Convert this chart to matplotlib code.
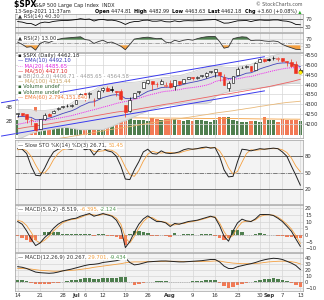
import matplotlib
matplotlib.use("Agg")
import matplotlib.pyplot as plt
from matplotlib.patches import Rectangle

W, H = 324, 300

# ---- data ----
tick_pos = [0, 5, 10, 13, 15, 19, 24, 29, 34, 39, 44, 49, 54, 56, 59, 63]
tick_lab = ["14", "21", "28", "Jul", "6", "12", "19", "26", "Aug", "9", "16", "23", "30", "Sep", "7", "13"]

opens = [4248.3, 4255.3, 4248.9, 4220.4, 4204.8, 4173.4, 4224.6, 4249.3, 4256.9, 4274.5,
         4284.9, 4293.2, 4290.7, 4300.7, 4326.6, 4356.5, 4351.0, 4321.1, 4329.4,
         4372.4, 4381.1, 4380.1, 4369.0, 4367.4, 4296.4, 4265.1, 4331.1, 4361.3, 4381.2,
         4409.6, 4416.4, 4402.9, 4403.6, 4395.1, 4406.9, 4392.7, 4415.9, 4408.9, 4429.1,
         4437.8, 4435.8, 4442.2, 4446.1, 4464.8, 4461.7, 4462.1, 4440.9, 4382.4, 4410.6,
         4450.3, 4484.4, 4490.5, 4493.8, 4474.1, 4513.8, 4529.8, 4528.8, 4534.5, 4532.4,
         4535.4, 4518.1, 4513.0, 4506.9, 4474.8]
highs = [4255.6, 4257.2, 4251.9, 4232.3, 4204.8, 4226.2, 4255.8, 4256.6, 4271.3, 4286.1,
         4292.1, 4300.5, 4302.4, 4320.7, 4355.4, 4356.5, 4361.9, 4330.9, 4372.0,
         4386.7, 4392.4, 4393.7, 4369.0, 4375.1, 4296.4, 4336.8, 4359.7, 4369.9, 4415.2,
         4422.7, 4416.4, 4415.5, 4430.0, 4412.3, 4422.2, 4423.8, 4416.2, 4429.8, 4440.8,
         4439.4, 4445.2, 4449.4, 4461.8, 4468.4, 4480.3, 4462.1, 4454.3, 4418.6, 4444.4,
         4489.9, 4492.8, 4501.7, 4495.9, 4513.3, 4537.4, 4531.4, 4537.1, 4545.9, 4541.5,
         4535.4, 4521.8, 4529.9, 4520.5, 4483.0]
lows = [4234.1, 4238.4, 4202.5, 4196.1, 4164.4, 4173.4, 4217.3, 4241.4, 4256.9, 4271.2,
        4281.1, 4287.0, 4287.8, 4300.7, 4326.6, 4314.4, 4329.8, 4289.4, 4329.4,
        4364.0, 4366.9, 4362.4, 4340.7, 4322.5, 4233.1, 4262.1, 4331.1, 4350.1, 4381.2,
        4405.5, 4372.5, 4387.0, 4403.6, 4389.9, 4384.8, 4373.0, 4400.2, 4408.9, 4429.1,
        4424.7, 4430.0, 4436.4, 4435.5, 4460.8, 4437.7, 4417.8, 4397.6, 4367.7, 4406.8,
        4450.3, 4482.3, 4485.7, 4469.0, 4474.1, 4513.8, 4515.8, 4522.0, 4524.7, 4521.9,
        4513.0, 4494.0, 4492.1, 4457.7, 4461.0]
closes = [4255.2, 4246.6, 4223.7, 4221.9, 4166.5, 4224.8, 4246.4, 4241.8, 4266.5, 4280.7,
          4290.6, 4291.8, 4297.5, 4319.9, 4352.3, 4343.5, 4358.1, 4320.8, 4369.6,
          4384.6, 4369.2, 4374.3, 4360.0, 4327.2, 4258.5, 4323.1, 4358.7, 4367.5, 4411.8,
          4422.3, 4401.5, 4400.6, 4419.2, 4395.3, 4387.2, 4423.2, 4402.7, 4429.1, 4436.5,
          4432.4, 4436.8, 4447.7, 4460.8, 4468.0, 4479.7, 4448.1, 4400.3, 4405.8, 4441.7,
          4479.5, 4486.2, 4496.2, 4470.0, 4509.4, 4528.8, 4522.7, 4524.1, 4537.0, 4535.4,
          4520.0, 4514.1, 4493.3, 4458.6, 4462.2]
volume_b = [2.2, 2.3, 2.6, 2.8, 4.0, 2.5, 2.2, 2.1, 2.2, 2.8,
            2.3, 2.1, 2.4, 2.0, 1.9, 2.5, 2.3, 2.6, 1.9,
            1.9, 2.2, 2.2, 2.2, 2.3, 2.7, 2.4, 2.2, 2.1, 2.1,
            2.0, 2.4, 2.3, 2.1, 2.3, 2.3, 2.3, 2.1, 2.0, 2.1,
            2.0, 2.2, 2.1, 2.0, 1.9, 2.2, 2.5, 2.5, 2.5, 2.2,
            2.0, 1.9, 1.9, 2.0, 2.0, 1.9, 2.6, 2.1, 2.1, 1.9,
            2.3, 2.2, 2.2, 2.2, 2.0]
vol_ema_b = [2.45, 2.45, 2.45, 2.46, 2.5, 2.5, 2.5, 2.49, 2.49, 2.5,
             2.5, 2.49, 2.49, 2.48, 2.47, 2.47, 2.47, 2.47, 2.46,
             2.45, 2.45, 2.44, 2.44, 2.44, 2.45, 2.45, 2.44, 2.44, 2.43,
             2.42, 2.42, 2.42, 2.41, 2.41, 2.41, 2.41, 2.40, 2.39, 2.39,
             2.38, 2.38, 2.37, 2.36, 2.35, 2.35, 2.35, 2.36, 2.36, 2.35,
             2.34, 2.33, 2.32, 2.31, 2.30, 2.29, 2.30, 2.29, 2.28, 2.27,
             2.27, 2.27, 2.26, 2.26, 2.25]

ema10 = [4236.2, 4238.1, 4235.5, 4233.0, 4220.9, 4221.6, 4226.1, 4229.0, 4235.8, 4244.0,
         4252.5, 4259.6, 4266.5, 4276.2, 4290.0, 4299.7, 4310.3, 4312.2, 4322.6,
         4333.9, 4340.3, 4346.5, 4349.0, 4345.0, 4329.3, 4328.2, 4333.7, 4339.8, 4352.9,
         4365.5, 4372.0, 4377.2, 4384.8, 4386.7, 4386.8, 4393.4, 4395.1, 4401.3, 4407.7,
         4412.2, 4416.7, 4422.3, 4429.3, 4436.3, 4444.2, 4444.9, 4436.8, 4431.2, 4433.1,
         4441.5, 4449.6, 4458.1, 4460.3, 4469.2, 4480.0, 4487.8, 4494.4, 4502.1, 4508.1,
         4510.3, 4511.0, 4507.8, 4498.9, 4492.1]
ma20 = [4197.8, 4202.0, 4206.8, 4212.1, 4212.5, 4215.9, 4218.4, 4221.0, 4224.6, 4228.6,
        4232.9, 4237.4, 4241.8, 4248.2, 4254.3, 4260.2, 4266.7, 4271.8, 4278.3,
        4285.1, 4290.8, 4297.2, 4304.0, 4309.3, 4313.9, 4318.8, 4324.4, 4330.7, 4338.0,
        4345.1, 4350.6, 4356.1, 4362.1, 4365.9, 4367.7, 4371.6, 4373.9, 4379.3, 4382.6,
        4385.0, 4388.4, 4392.1, 4397.1, 4404.1, 4415.2, 4421.5, 4423.5, 4425.5, 4426.9,
        4429.8, 4434.0, 4438.8, 4441.4, 4447.1, 4454.1, 4459.1, 4465.2, 4470.6, 4475.5,
        4479.9, 4483.8, 4486.1, 4485.9, 4485.7]
bb_half = [74, 72, 66, 60, 54, 52, 50, 50, 50, 50,
           52, 56, 64, 74, 84, 90, 95, 100, 108,
           114, 112, 110, 106, 100, 97, 92, 88, 84, 82,
           80, 76, 74, 72, 70, 70, 72, 72, 72, 76,
           80, 84, 88, 92, 95, 76, 72, 66, 62, 60,
           60, 60, 62, 62, 66, 72, 74, 76, 78, 78,
           78, 80, 80, 79, 79]
ma50 = [4175, 4179, 4183, 4186, 4189, 4193, 4197, 4200, 4204, 4208,
        4212, 4216, 4220, 4224, 4228, 4232, 4236, 4240, 4244,
        4248, 4252, 4256, 4260, 4263, 4265, 4268, 4272, 4276, 4280,
        4284, 4288, 4292, 4296, 4300, 4303, 4307, 4311, 4315, 4319,
        4323, 4327, 4331, 4335, 4339, 4344, 4347, 4350, 4353, 4357,
        4361, 4365, 4369, 4373, 4377, 4382, 4386, 4390, 4395, 4400,
        4405, 4410, 4415, 4421, 4427.1]
ma100 = [4095, 4098, 4101, 4105, 4108, 4111, 4115, 4118, 4122, 4125,
         4129, 4132, 4136, 4140, 4144, 4148, 4152, 4156, 4160,
         4164, 4168, 4172, 4176, 4179, 4182, 4186, 4190, 4194, 4198,
         4202, 4206, 4209, 4213, 4216, 4219, 4223, 4226, 4230, 4233,
         4237, 4240, 4244, 4247, 4251, 4255, 4258, 4261, 4264, 4267,
         4271, 4274, 4278, 4281, 4285, 4289, 4292, 4296, 4299, 4303,
         4306, 4309, 4311, 4313, 4315.4]
# channel trend lines (day, price)
chan_x = [-3.6, 55.0]
chan_hi = [4308, 4542]
chan_lo = [4138, 4368]

rsi14 = [58, 55, 48, 47, 36, 50, 55, 53, 59, 62, 64, 64, 66, 69, 74, 70, 72, 61, 68,
         70, 65, 66, 62, 54, 42, 53, 58, 59, 65, 66, 60, 60, 63, 57, 56, 62, 57, 62, 63,
         62, 63, 65, 67, 68, 70, 60, 49, 50, 56, 62, 63, 64, 58, 64, 67, 65, 65, 67, 67,
         62, 60, 54, 42, 40.3]
rsi2 = [52, 40, 25, 28, 10, 45, 55, 50, 60, 66, 72, 74, 76, 78, 80, 66, 62, 45, 55,
        62, 50, 52, 42, 30, 12, 40, 68, 72, 76, 78, 74, 70, 72, 52, 48, 62, 55, 62, 66,
        62, 70, 76, 80, 82, 82, 55, 20, 26, 70, 76, 80, 78, 60, 62, 62, 58, 56, 58, 55,
        40, 30, 22, 14, 13.0]

sto_k = [94, 93, 85, 62, 45, 44, 58, 75, 88, 93, 95, 94, 93, 96, 97, 92, 94, 82, 92,
         95, 90, 88, 80, 62, 38, 37, 55, 70, 88, 93, 85, 84, 90, 86, 85, 86, 88, 92, 94,
         93, 94, 96, 97, 95, 96, 80, 55, 42, 43, 70, 93, 92, 90, 92, 94, 93, 94, 95, 94,
         88, 80, 62, 45, 26.71]
sto_d = [92, 94, 90, 80, 64, 50, 49, 59, 74, 85, 92, 94, 94, 94, 95, 95, 94, 89, 89,
         90, 92, 91, 86, 77, 60, 46, 43, 54, 71, 84, 89, 87, 86, 87, 87, 86, 86, 89, 91,
         93, 94, 94, 96, 96, 96, 90, 77, 59, 47, 52, 69, 85, 92, 91, 92, 93, 94, 94, 94,
         92, 87, 77, 62, 51.45]

macd1 = [10, 8, 3, -3, -8, -6, -2, 1, 5, 8, 10, 11, 12, 12.5, 14, 15, 16, 14, 15,
         16, 15, 14, 11, 5, -9.5, -5, 2, 8, 12, 14.3, 12, 10, 10, 9, 6.3, 8.6, 8, 9, 10,
         10.5, 11, 12, 13, 14, 13, 7, -1, -4.7, 3, 9,
         11.8, 10.5, 10, 12, 15.2, 15.3, 15.2, 14.5, 12.5, 10, 6.5, 2.8, -3, -8.519]
macd1_sig = [11, 10, 7, 2, -4, -6, -4, -1, 3, 6, 9, 10.5, 11.5, 12, 13, 14.5, 15.5, 15, 14.5,
             15.5, 15.5, 14.5, 12.5, 8, -2, -6, -1, 5, 10, 13, 13, 11, 10, 9.5, 7.5, 7.5, 8.3, 8.5, 9.5,
             10, 10.7, 11.5, 12.5, 13.5, 13.5, 9, 2.5, -2.5, -0.5, 5.5,
             9.5, 10.3, 10.2, 11.3, 13.8, 14.8, 15.1, 14.8, 13.3, 11, 8, 4.5, -0.5, -6.395]
macd1_hist = [-1, -2, -4, -5, -4, 0, 2, 2, 2, 2, 1, 0.5, 0.5, 0.5, 1, 0.5, 0.5, -1, 0.5,
              0.5, -0.5, -0.5, -1.5, -3, -7.5, 1, 3, 3, 2, 1.3, -1, -1, 0, -0.5, -1.2, 1.1, -0.3, 0.5, 0.5,
              0.5, 0.3, 0.5, 0.5, 0.5, -0.5, -2, -3.5, -2.2, 3.5, 3.5,
              2.3, 0.2, -0.2, 0.7, 1.4, 0.5, 0.1, -0.3, -0.8, -1, -1.5, -1.7, -2.5, -2.124]

macd2 = [25, 24, 22, 19, 16, 15, 14.5, 14, 14.5, 16, 18, 19.5, 21, 23, 25, 27, 28.5, 29, 30,
         32, 33, 34, 35, 37, 39.5, 32, 28, 29, 31, 33, 33.5, 34, 34.5, 34.5, 34, 33.5, 33, 33, 33.5,
         34, 34.5, 35, 36, 37, 37, 33, 26, 22, 22, 25, 26.7, 28.5, 30, 32, 34.5, 36.5, 38,
         39, 38.5, 37, 34, 31, 27, 20.267]
macd2_sig = [22, 22, 21.5, 21, 20, 19, 18.5, 18, 17.5, 17.5, 18, 18.5, 19, 19.5, 20.5, 21.5, 22.5, 24, 25,
             26, 27, 28, 29, 30, 31.5, 32.5, 33, 33, 33, 33.5, 33.5, 33.5, 33.5, 34, 34, 34, 34, 33.5, 33.5,
             33.5, 33.5, 33.5, 34, 34, 34.5, 34.5, 33, 32, 31, 30.5, 30, 30, 30, 30.5, 31, 32, 33,
             33.5, 34, 34.2, 34, 33.3, 32, 29.701]
macd2_hist = [3, 2, 0.5, -2, -4, -4, -4, -4, -3, -1.5, 0, 1, 2, 3.5, 4.5, 5.5, 6, 5, 5,
              6, 6, 6, 6, 7, 8, -0.5, -5, -4, -2, -0.5, 0, 0.5, 1, 0.5, 0, -0.5, -1, -0.5, 0,
              0.5, 1, 1.5, 2, 3, 2.5, -1.5, -7, -10, -9, -5.5, -3.3, -1.5, 0, 1.5, 3.5, 4.5, 5,
              5.5, 5, 3, 0.5, -2.3, -5, -9.434]

# ---- styling ----
GRID = "#d6d6d6"
PANEL_BG = "#f3f3f3"
SPINE = "#a0a0a0"
GREEN = "#4f7f4f"
RED = "#ee3322"
SALMON = "#f27a55"
ORANGE = "#f4a040"
FS = 3.8

x = list(range(len(closes)))
fig = plt.figure(figsize=(W / 100, H / 100), dpi=100)
fig.patch.set_facecolor("white")


def panel(top, bottom, left=15, right=303, bg=PANEL_BG):
    ax = fig.add_axes([left / W, 1 - bottom / H, (right - left) / W, (bottom - top) / H])
    ax.set_facecolor(bg)
    ax.set_xlim(-0.6, len(closes) - 0.4)
    ax.set_xticks(tick_pos)
    ax.xaxis.grid(True, color=GRID, lw=0.5)
    ax.yaxis.grid(True, color=GRID, lw=0.5)
    ax.set_axisbelow(True)
    ax.yaxis.tick_right()
    ax.tick_params(length=0, labelbottom=False, labelleft=False, labelright=True,
                   labelsize=FS, pad=1.5, colors="#333333")
    for s in ax.spines.values():
        s.set_color(SPINE)
        s.set_linewidth(0.5)
    return ax


def rich(ax, xx, yy, parts, transform=None, size=FS, box=False, align="left"):
    # draw text pieces one after another on one line
    fig.canvas.draw()
    r = fig.canvas.get_renderer()
    tr = transform if transform is not None else ax.transAxes
    inv = tr.inverted()
    made = []
    cur = xx
    for s, color, weight in parts:
        t = ax.text(cur, yy, s, color=color, fontweight=weight, fontsize=size,
                    transform=tr, va="center", ha="left", zorder=6)
        if box:
            t.set_bbox(dict(facecolor="white", edgecolor="none", pad=0.2))
        bb = t.get_window_extent(renderer=r)
        w = inv.transform((bb.x1, bb.y0))[0] - inv.transform((bb.x0, bb.y0))[0]
        made.append((t, cur))
        cur += w
    if align == "right":
        shift = cur - xx
        for t, px in made:
            t.set_x(px - shift)


# ---- header ----
hdr = fig.add_axes([0, 0, 1, 1])
hdr.set_axis_off()
hdr.set_xlim(0, W)
hdr.set_ylim(H, 0)
rich(hdr, 14, 5, [("$SPX ", "black", "bold")], transform=hdr.transData, size=5.5)
rich(hdr, 35, 5.3, [("S&P 500 Large Cap Index  INDX", "#222222", "normal")],
     transform=hdr.transData, size=3.6)
hdr.text(15, 11.5, "13-Sep-2021 11:37am", fontsize=3.6, va="center", color="#222222")
hdr.text(302, 4.5, "© StockCharts.com", fontsize=3.4, va="center", ha="right", color="#555555")
rich(hdr, 302, 11.5, [("Open ", "black", "bold"), ("4474.81  ", "#222222", "normal"),
                      ("High ", "black", "bold"), ("4482.99  ", "#222222", "normal"),
                      ("Low ", "black", "bold"), ("4463.63  ", "#222222", "normal"),
                      ("Last ", "black", "bold"), ("4462.18  ", "#222222", "normal"),
                      ("Chg ", "black", "bold"), ("+3.60 (+0.08%) ", "#222222", "normal"),
                      ("▲", "#22aa22", "normal")], transform=hdr.transData, size=3.5,
     align="right")

# ---- RSI(14) ----
ax = panel(14, 32)
ax.set_ylim(0, 100)
ax.set_yticks([30, 70])
ax.set_yticklabels(["30", "70"])
ax.axhline(70, color="#666666", lw=0.6)
ax.axhline(30, color="#666666", lw=0.6)
ax.plot(x, rsi14, color="black", lw=0.6)
rich(ax, 0.01, 0.86, [("▲ RSI(14) 40.30", "#333333", "normal")], box=True)

# ---- RSI(2) ----
ax = panel(33, 52)
ax.set_ylim(0, 100)
ax.set_yticks([30, 70])
ax.set_yticklabels(["30", "70"])
ax.axhline(50, color="#888888", lw=0.5, ls="-.")
ax.fill_between(x, rsi2, 65, where=[v > 65 for v in rsi2], interpolate=True, color=GREEN, lw=0)
ax.fill_between(x, rsi2, 35, where=[v < 35 for v in rsi2], interpolate=True, color=ORANGE, lw=0)
ax.plot(x, rsi2, color="#333333", lw=0.6)
rich(ax, 0.01, 0.7, [("▲ RSI(2) 13.00", "#333333", "normal")], box=True)

# ---- price ----
ax = panel(53, 138, bg="white")
ax.set_ylim(4128, 4561)
ax.set_yticks(range(4200, 4551, 50))
upper = [m + h for m, h in zip(ma20, bb_half)]
lower = [m - h for m, h in zip(ma20, bb_half)]
ax.fill_between(x, lower, upper, color="#e2e2e2", lw=0, zorder=1)
ax.plot(x, upper, color="#c8c8c8", lw=0.5, zorder=1)
ax.plot(x, lower, color="#c8c8c8", lw=0.5, zorder=1)

vax = ax.twinx()
ax.yaxis.tick_right()
ax.tick_params(labelleft=False, labelright=True)
vax.set_ylim(-0.43, 11.7)
vax.set_yticks([2, 4])
vax.set_yticklabels(["2B", "4B"])
vax.yaxis.tick_left()
vax.tick_params(length=0, labelsize=FS, pad=1.5, colors="#333333",
                labelleft=True, labelright=False)
for s in vax.spines.values():
    s.set_visible(False)
vcol = [GREEN if i == 0 or closes[i] >= closes[i - 1] else SALMON for i in x]
vax.bar(x, volume_b, width=0.8, color=vcol, lw=0, zorder=1)
vax.plot(x, vol_ema_b, color=ORANGE, lw=0.6)
vax.set_zorder(ax.get_zorder() - 1)
ax.patch.set_visible(False)
vax.patch.set_visible(True)
vax.patch.set_facecolor("white")

ax.plot(x, ma100, color="#e8b878", lw=0.6, zorder=2)
ax.plot(x, ma50, color="#ee6060", lw=0.6, zorder=2)
ax.plot(x, ma20, color="#ee22ee", lw=0.7, ls=(0, (1, 1)), zorder=2)
ax.plot(x, ema10, color="#4444bb", lw=0.6, zorder=2)
ax.plot(chan_x, chan_hi, color="#3a3aee", lw=0.7, clip_on=False, zorder=2)
ax.plot(chan_x, chan_lo, color="#3a3aee", lw=0.7, clip_on=False, zorder=2)

for i in x:
    o, h, l, c = opens[i], highs[i], lows[i], closes[i]
    col = "black" if i == 0 or c >= closes[i - 1] else RED
    ax.vlines(i, l, h, color=col, lw=0.5, zorder=3)
    lo_b, hi_b = min(o, c), max(o, c)
    hgt = max(hi_b - lo_b, 1.2)
    ax.add_patch(Rectangle((i - 0.32, lo_b), 0.64, hgt, facecolor=col if c < o else "white",
                           edgecolor=col, lw=0.4, zorder=4))
ax.plot([x[-1]], [closes[-1]], "o", ms=2.6, mfc="#ffee00", mec="#aa9900", mew=0.3, zorder=5)

leg = [("▪ $SPX (Daily) 4462.18", "#222222"),
       ("— EMA(10) 4492.10", "#3333bb"),
       ("··· MA(20) 4485.65", "#dd22dd"),
       ("— MA(50) 4427.10", "#dd2222"),
       ("▪ BB(20,2.0) 4406.71 - 4485.65 - 4564.58", "#999999"),
       ("— MA(100) 4315.44", "#c8a060"),
       ("▪ Volume undef", "#336633"),
       ("▪ Volume undef", "#336633"),
       ("— EMA(60) 2,794,151,840", "#ee7733")]
for k, (s, c) in enumerate(leg):
    ax.text(0.01, 1 - (2.7 + 5.2 * k) / 85, s, color=c, fontsize=FS, va="center",
            transform=ax.transAxes, zorder=6,
            bbox=dict(facecolor="white", edgecolor="none", pad=0.1))

# ---- Slow STO ----
ax = panel(140, 204)
ax.set_ylim(-8, 110)
ax.set_yticks([20, 50, 80])
ax.axhline(80, color="#555555", lw=0.6)
ax.axhline(20, color="#555555", lw=0.6)
ax.axhline(50, color="#555555", lw=0.5, ls="-.")
ax.plot(x, sto_d, color=ORANGE, lw=0.6)
ax.plot(x, sto_k, color="#222222", lw=0.7)
rich(ax, 0.01, 0.91, [("— Slow STO %K(14) %D(3) 26.71, ", "#333333", "normal"),
                      ("51.45", ORANGE, "normal")], box=True)

# ---- MACD(5,9,2) ----
ax = panel(205, 252)
ax.set_ylim(-12.8, 22.4)
ax.set_yticks([-10, -5, 0, 5, 10, 15, 20])
hcol = [GREEN if v >= 0 else SALMON for v in macd1_hist]
ax.bar(x, macd1_hist, width=0.8, color=hcol, lw=0)
ax.axhline(0, color="#999999", lw=0.4, ls=(0, (2, 2)))
ax.plot(x, macd1_sig, color=ORANGE, lw=0.6)
ax.plot(x, macd1, color="#222222", lw=0.7)
rich(ax, 0.01, 0.9, [("— MACD(5,9,2) -8.519, ", "#333333", "normal"),
                     ("-6.395, ", ORANGE, "normal"), ("-2.124", "#559955", "normal")], box=True)

# ---- MACD(12,26,9) ----
ax = panel(253, 291)
ax.set_ylim(-15.5, 47.8)
ax.set_yticks([-10, 0, 10, 20, 30, 40])
hcol = [GREEN if v >= 0 else SALMON for v in macd2_hist]
ax.bar(x, macd2_hist, width=0.8, color=hcol, lw=0)
ax.axhline(0, color="#999999", lw=0.4, ls=(0, (2, 2)))
ax.plot(x, macd2_sig, color=ORANGE, lw=0.6)
ax.plot(x, macd2, color="#222222", lw=0.7)
rich(ax, 0.01, 0.89, [("— MACD(12,26,9) 20.267, ", "#333333", "normal"),
                      ("29.701, ", ORANGE, "normal"), ("-9.434", "#559955", "normal")], box=True)
ax.tick_params(labelbottom=True)
ax.set_xticklabels(tick_lab)
for t in ax.get_xticklabels():
    if t.get_text() in ("Jul", "Aug", "Sep"):
        t.set_fontweight("bold")

fig.savefig("out.png", dpi=100)
